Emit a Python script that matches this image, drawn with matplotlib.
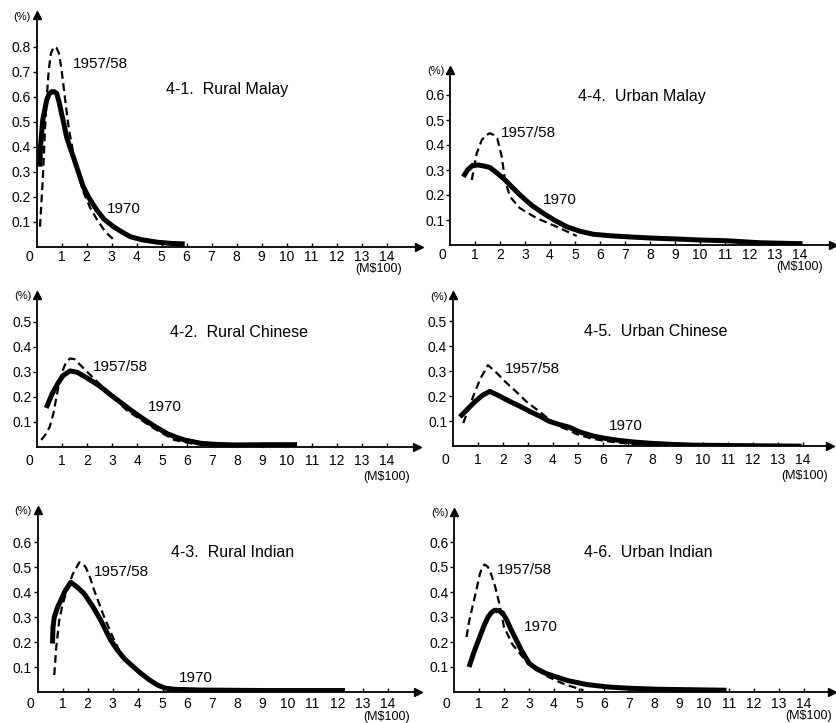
"""
    Income distribution curves by community, 1957/58 vs 1970
"""
import numpy as np
from matplotlib import pyplot as plt

plt.rcParams['font.family'] = ['Liberation Sans', 'DejaVu Sans']

W, H = 836, 723
PX_X = 25.0   # pixels per M$100
PX_Y = 250.0  # pixels per 1 %

# 4-1 Rural Malay
rm70_x = [0.14, 0.16, 0.25, 0.41, 0.5, 0.61, 0.71, 0.81, 0.9, 1.0, 1.1, 1.2, 1.33, 1.47, 1.67,
          1.87, 2.1, 2.41, 2.7, 3.08, 3.4, 3.75, 4.2, 4.83, 5.4, 5.93]
rm70_y = [0.32, 0.4, 0.507, 0.587, 0.61, 0.62, 0.62, 0.613, 0.58, 0.534, 0.49, 0.44, 0.40, 0.36, 0.30,
          0.24, 0.195, 0.147, 0.11, 0.08, 0.06, 0.04, 0.028, 0.018, 0.013, 0.011]
rm58_x = [0.14, 0.25, 0.35, 0.42, 0.49, 0.58, 0.7, 0.8, 0.9, 1.0, 1.1, 1.2, 1.3, 1.5, 1.7, 1.9,
          2.15, 2.43, 2.75, 3.1]
rm58_y = [0.08, 0.267, 0.493, 0.61, 0.707, 0.775, 0.8, 0.795, 0.773, 0.71, 0.627, 0.545, 0.467, 0.36,
          0.28, 0.213, 0.155, 0.107, 0.06, 0.027]

# 4-4 Urban Malay
um70_x = [0.53, 0.7, 0.9, 1.13, 1.4, 1.6, 1.85, 2.13, 2.45, 2.8, 3.25, 3.73, 4.2, 4.67, 5.2, 5.73,
          6.4, 7.07, 8.0, 9.07, 10.0, 11.07, 12.4, 14.1]
um70_y = [0.273, 0.3, 0.318, 0.32, 0.315, 0.31, 0.29, 0.267, 0.235, 0.2, 0.16, 0.127, 0.098, 0.073,
          0.055, 0.043, 0.037, 0.033, 0.028, 0.024, 0.02, 0.017, 0.009, 0.005]
um58_x = [0.87, 1.07, 1.27, 1.45, 1.6, 1.75, 1.89, 2.07, 2.2, 2.4, 2.8, 3.47, 4.27, 5.07]
um58_y = [0.26, 0.367, 0.42, 0.44, 0.447, 0.44, 0.427, 0.353, 0.26, 0.193, 0.147, 0.107, 0.073, 0.036]

# 4-2 Rural Chinese
rc70_x = [0.37, 0.6, 0.85, 1.05, 1.32, 1.6, 2.0, 2.5, 2.95, 3.35, 3.8, 4.3, 4.7, 5.23, 5.6, 5.89,
          6.56, 7.2, 7.9, 9.2, 10.4]
rc70_y = [0.155, 0.21, 0.256, 0.285, 0.303, 0.298, 0.275, 0.243, 0.207, 0.177, 0.143, 0.108, 0.082,
          0.051, 0.037, 0.027, 0.0135, 0.009, 0.007, 0.008, 0.008]
rc58_x = [0.17, 0.35, 0.51, 0.65, 0.78, 0.88, 0.98, 1.15, 1.32, 1.5, 1.73, 2.05, 2.41, 2.75, 3.09,
          3.6, 4.17, 4.6, 4.91, 5.49, 6.29, 7.2]
rc58_y = [0.027, 0.05, 0.08, 0.13, 0.2, 0.25, 0.293, 0.335, 0.353, 0.35, 0.327, 0.295, 0.26, 0.227,
          0.193, 0.145, 0.107, 0.078, 0.06, 0.027, 0.011, 0.004]

# 4-5 Urban Chinese
uc70_x = [0.29, 0.6, 0.9, 1.2, 1.48, 1.8, 2.28, 2.7, 3.08, 3.5, 3.87, 4.25, 4.65, 5.1, 5.6, 6.1,
          6.66, 7.3, 7.98, 8.8, 9.58, 11.6, 13.95]
uc70_y = [0.118, 0.15, 0.18, 0.205, 0.22, 0.205, 0.18, 0.16, 0.14, 0.12, 0.1, 0.088, 0.077, 0.057,
          0.042, 0.032, 0.024, 0.017, 0.012, 0.008, 0.005, 0.003, 0.001]
uc58_x = [0.42, 0.6, 0.82, 1.1, 1.41, 1.7, 2.14, 2.55, 2.94, 3.46, 3.9, 4.27, 4.65, 4.93, 5.5, 6.0,
          6.92, 7.98]
uc58_y = [0.093, 0.14, 0.2, 0.27, 0.325, 0.3, 0.255, 0.218, 0.18, 0.14, 0.105, 0.08, 0.065, 0.05,
          0.033, 0.023, 0.012, 0.003]

# 4-3 Rural Indian
ri70_x = [0.6, 0.62, 0.67, 0.8, 0.93, 1.1, 1.33, 1.6, 1.87, 2.2, 2.53, 2.93, 3.2, 3.47, 3.8, 4.13,
          4.5, 4.8, 5.1, 5.47, 6.53, 9.2, 12.3]
ri70_y = [0.195, 0.26, 0.3, 0.34, 0.367, 0.405, 0.44, 0.42, 0.394, 0.345, 0.288, 0.208, 0.168, 0.135,
          0.105, 0.076, 0.048, 0.029, 0.017, 0.012, 0.009, 0.007, 0.007]
ri58_x = [0.67, 0.75, 0.87, 1.0, 1.13, 1.4, 1.67, 1.8, 1.93, 2.1, 2.27, 2.67, 3.07, 3.4]
ri58_y = [0.069, 0.18, 0.288, 0.35, 0.394, 0.47, 0.52, 0.515, 0.5, 0.46, 0.407, 0.3, 0.208, 0.142]

# 4-6 Urban Indian
ui70_x = [0.6, 0.8, 1.03, 1.2, 1.36, 1.5, 1.62, 1.8, 1.95, 2.1, 2.28, 2.48, 2.68, 3.0, 3.3, 3.66,
          4.1, 4.58, 5.3, 6.17, 7.0, 8.14, 10.9]
ui70_y = [0.1, 0.16, 0.22, 0.265, 0.3, 0.318, 0.327, 0.325, 0.315, 0.29, 0.25, 0.21, 0.17, 0.115,
          0.093, 0.075, 0.06, 0.045, 0.03, 0.02, 0.015, 0.011, 0.007]
ui58_x = [0.5, 0.62, 0.76, 0.9, 1.03, 1.13, 1.23, 1.36, 1.49, 1.65, 1.82, 2.0, 2.34, 2.87, 3.3,
          3.66, 4.1, 4.45, 5.18]
ui58_y = [0.22, 0.29, 0.35, 0.41, 0.47, 0.5, 0.51, 0.5, 0.47, 0.42, 0.35, 0.26, 0.19, 0.125, 0.09,
          0.066, 0.045, 0.03, 0.007]

x_ticks = list(range(1, 15))


def draw_panel(fig, origin, xmax, ymax, n_yticks, title, d70, d58, lab58, lab70, title_pos,
               xpad=5, unit_x=14.9, unit_off=19):
    x0, y0 = origin
    rect = [x0 / W, (H - y0) / H, xmax * PX_X / W, ymax * PX_Y / H]
    ax = fig.add_axes(rect)
    ax.set_xlim(0, xmax)
    ax.set_ylim(0, ymax)
    for side in ("top", "right"):
        ax.spines[side].set_visible(False)
    for side in ("left", "bottom"):
        ax.spines[side].set_linewidth(1.3)
    ax.patch.set_visible(False)

    # arrow heads
    ax.plot(1, 0, ">k", ms=6, transform=ax.transAxes, clip_on=False)
    ax.plot(0, 1, "^k", ms=6, transform=ax.transAxes, clip_on=False)

    yt = [round(0.1 * i, 1) for i in range(1, n_yticks + 1)]
    ax.set_yticks(yt)
    ax.set_yticklabels([f"{v:.1f}" for v in yt])
    ax.set_xticks(x_ticks)
    ax.set_xticklabels([str(v) for v in x_ticks])
    ax.tick_params(axis="y", direction="out", length=3, width=1, labelsize=10, pad=1)
    ax.tick_params(axis="x", direction="in", length=3, width=1, labelsize=10, pad=xpad)

    ax.annotate("0", xy=(-0.3, 0), xycoords=("data", "axes fraction"),
                xytext=(0, -xpad), textcoords="offset points", ha="center", va="top",
                fontsize=10)
    ax.annotate(r"(M\$100)", xy=(unit_x, 0), xycoords=("data", "axes fraction"),
                xytext=(0, -unit_off), textcoords="offset points", ha="right", va="center",
                fontsize=9)
    ax.annotate("(%)", xy=(0, 1), xycoords="axes fraction", xytext=(-4, -1),
                textcoords="offset points", ha="right", va="center", fontsize=8)

    ax.plot(d70[0], d70[1], "k-", lw=3.6, solid_capstyle="butt", solid_joinstyle="round")
    ax.plot(d58[0], d58[1], "k--", lw=1.6, dashes=(3.5, 2))

    ax.text(lab58[0], lab58[1], "1957/58", fontsize=11, ha="left", va="center")
    ax.text(lab70[0], lab70[1], "1970", fontsize=11, ha="left", va="center")
    ax.text(title_pos[0], title_pos[1], title, fontsize=11.5, ha="left", va="center")
    return ax


fig = plt.figure(figsize=(W / 100, H / 100), dpi=100)

draw_panel(fig, (36.5, 246.7), 15.3, 0.925, 8, "4-1.  Rural Malay",
           (rm70_x, rm70_y), (rm58_x, rm58_y), (1.44, 0.73), (2.8, 0.15), (5.2, 0.63),
           xpad=2.5, unit_x=14.6, unit_off=16)
draw_panel(fig, (450, 245), 15.3, 0.70, 6, "4-4.  Urban Malay",
           (um70_x, um70_y), (um58_x, um58_y), (2.03, 0.447), (3.73, 0.18), (5.13, 0.593),
           xpad=2.5, unit_x=14.9, unit_off=16)
draw_panel(fig, (37, 446.7), 15.2, 0.607, 5, "4-2.  Rural Chinese",
           (rc70_x, rc70_y), (rc58_x, rc58_y), (2.23, 0.317), (4.43, 0.158), (5.3, 0.458),
           xpad=5, unit_x=14.9, unit_off=21.5)
draw_panel(fig, (452.7, 446.4), 15.1, 0.605, 5, "4-5.  Urban Chinese",
           (uc70_x, uc70_y), (uc58_x, uc58_y), (2.08, 0.31), (6.26, 0.08), (5.27, 0.458),
           xpad=5, unit_x=15.0, unit_off=21.5)
draw_panel(fig, (37.5, 692.3), 15.2, 0.73, 6, "4-3.  Rural Indian",
           (ri70_x, ri70_y), (ri58_x, ri58_y), (2.27, 0.48), (5.67, 0.056), (5.33, 0.56),
           xpad=3.5, unit_x=14.9, unit_off=17.5)
draw_panel(fig, (454, 692), 15.1, 0.72, 6, "4-6.  Urban Indian",
           (ui70_x, ui70_y), (ui58_x, ui58_y), (1.7, 0.49), (2.8, 0.26), (5.2, 0.557),
           xpad=3.5, unit_x=15.1, unit_off=17.5)

fig.savefig("out.png", dpi=100)
